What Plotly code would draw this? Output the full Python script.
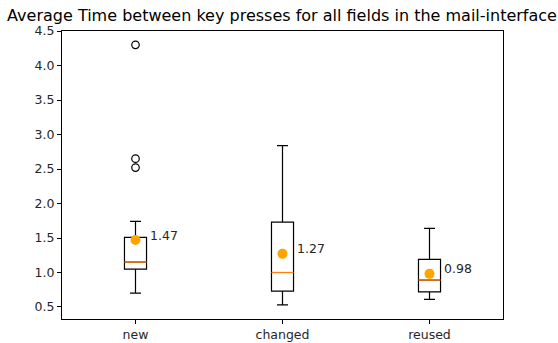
import plotly.graph_objects as go

categories = ["new", "changed", "reused"]
positions = [1, 2, 3]
q1 = [1.05, 0.73, 0.72]
median = [1.15, 1.00, 0.89]
q3 = [1.51, 1.73, 1.19]
lower_whisker = [0.70, 0.53, 0.61]
upper_whisker = [1.74, 2.84, 1.64]
means = [1.47, 1.27, 0.98]
mean_labels = ["1.47", "1.27", "0.98"]
outlier_x = [1, 1, 1]
outlier_y = [4.30, 2.65, 2.52]

BOX_W = 0.15

fig = go.Figure()
fig.add_trace(go.Box(
    x=positions, q1=q1, median=median, q3=q3,
    lowerfence=lower_whisker, upperfence=upper_whisker,
    width=BOX_W, whiskerwidth=0.5,
    line=dict(color="black", width=1.2), fillcolor="rgba(0,0,0,0)",
    boxpoints=False, showlegend=False, hoverinfo="skip",
))
# median lines
for p, m in zip(positions, median):
    fig.add_trace(go.Scatter(
        x=[p - BOX_W / 2, p + BOX_W / 2], y=[m, m], mode="lines",
        line=dict(color="#ff7f0e", width=1.3), showlegend=False, hoverinfo="skip",
    ))
# outliers
fig.add_trace(go.Scatter(
    x=outlier_x, y=outlier_y, mode="markers",
    marker=dict(symbol="circle-open", size=7.5, color="black", line=dict(width=1.2)),
    showlegend=False,
))
# means
fig.add_trace(go.Scatter(
    x=positions, y=means, mode="markers",
    marker=dict(color="orange", size=10),
    showlegend=False,
))
for p, m, t in zip(positions, means, mean_labels):
    fig.add_annotation(
        x=p + 0.1, y=m, text=t, showarrow=False, xanchor="left", yanchor="middle",
        xshift=-2, yshift=5,
        font=dict(family="DejaVu Sans", size=12.5, color="#262626"),
    )

fig.update_layout(
    width=558, height=343,
    margin=dict(l=62, r=55, t=31, b=24),
    paper_bgcolor="white", plot_bgcolor="white",
    font=dict(family="DejaVu Sans", size=12.5, color="#262626"),
    title=dict(text="Average Time between key presses for all fields in the mail-interface",
               x=282 / 558, xanchor="center", y=1 - 15 / 343, yanchor="middle",
               automargin=False,
               font=dict(size=16, color="black")),
)
fig.update_xaxes(
    range=[0.5, 3.5], tickvals=positions, ticktext=categories, automargin=False,
    showgrid=False, zeroline=False, showline=True, linecolor="black", linewidth=1,
    mirror=True, ticks="outside", ticklen=4, tickcolor="black",
)
fig.update_yaxes(
    range=[0.326, 4.50], tickvals=[0.5, 1.0, 1.5, 2.0, 2.5, 3.0, 3.5, 4.0, 4.5],
    ticktext=["0.5", "1.0", "1.5", "2.0", "2.5", "3.0", "3.5", "4.0", "4.5"],
    automargin=False,
    showgrid=False, zeroline=False, showline=True, linecolor="black", linewidth=1,
    mirror=True, ticks="outside", ticklen=4, tickcolor="black",
)

fig.write_html("out.html", config={"displayModeBar": False},
               post_script="document.body.style.margin='0';")
